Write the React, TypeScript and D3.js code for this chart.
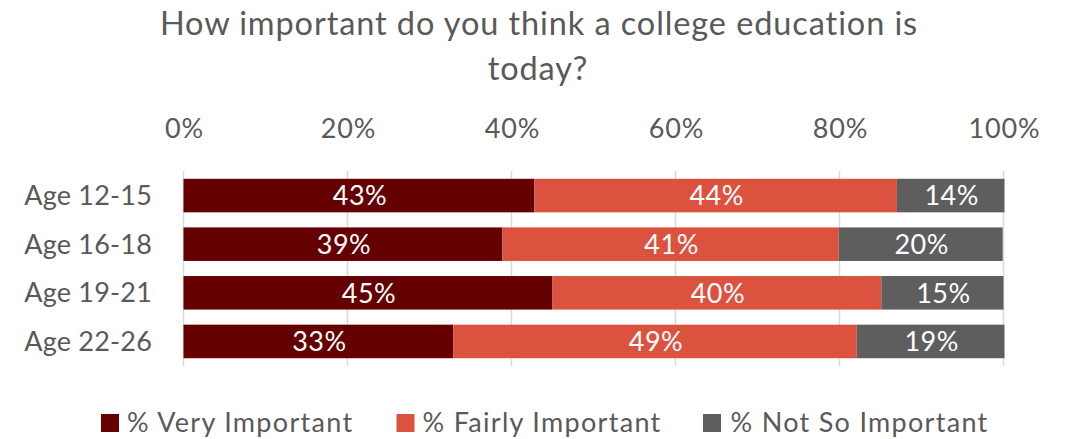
import React from "react";
import * as d3 from "d3";

const categories = ["Age 12-15", "Age 16-18", "Age 19-21", "Age 22-26"];
const seriesNames = ["% Very Important", "% Fairly Important", "% Not So Important"];
const veryImportant = [42.8, 38.9, 45.0, 32.9];
const fairlyImportant = [44.2, 41.0, 40.1, 49.2];
const notSoImportant = [13.6, 20.0, 14.9, 18.6];
const seriesLabels = [
  [43, 39, 45, 33],
  [44, 41, 40, 49],
  [14, 20, 15, 19],
];
const tickValues = [0, 0.2, 0.4, 0.6, 0.8, 1.0];
const colors = ["#650000", "#DB523F", "#5E5E5E"];

const W = 1066;
const H = 439;
const FONT = "Lato, 'Open Sans', sans-serif";
const TXT = "#595959";

export default function App() {
  const x = d3.scaleLinear().domain([0, 1]).range([183.5, 1003.5]);
  const y = d3
    .scaleBand<string>()
    .domain(categories)
    .range([171, 366])
    .paddingInner(0.31)
    .paddingOuter(0.16);
  const series = [veryImportant, fairlyImportant, notSoImportant];
  const xMax = x(1) + 1;

  const segs: any[] = [];
  categories.forEach((c, i) => {
    let acc = 0;
    series.forEach((s, k) => {
      const v = s[i] / 100;
      const x0 = x(acc);
      const x1 = Math.min(x(acc + v), xMax);
      acc += v;
      segs.push({ c, k, x0, x1, label: seriesLabels[k][i] });
    });
  });

  const legendItems = [
    { sx: 101, tx: 127 },
    { sx: 396.5, tx: 422.5 },
    { sx: 703, tx: 730.5 },
  ];

  return (
    <svg width={W} height={H} style={{ position: "absolute", left: 0, top: 0 }}>
      <rect width={W} height={H} fill="#fff" />
      <text x={539} y={35} textAnchor="middle" fontFamily={FONT} fontSize={32.5} letterSpacing={0.9} fill={TXT}>
        How important do you think a college education is
      </text>
      <text x={538} y={80} textAnchor="middle" fontFamily={FONT} fontSize={32.5} letterSpacing={0.9} fill={TXT}>
        today?
      </text>
      {tickValues.map((t) => (
        <g key={t}>
          <line x1={x(t)} x2={x(t)} y1={171} y2={366} stroke="#D9D9D9" strokeWidth={1.5} />
          <text x={x(t) + 1} y={137.5} textAnchor="middle" fontFamily={FONT} fontSize={27} letterSpacing={0.8} fill={TXT}>
            {d3.format(".0%")(t)}
          </text>
        </g>
      ))}
      {categories.map((c) => (
        <text
          key={c}
          x={152}
          y={(y(c) as number) + y.bandwidth() / 2}
          dy="0.35em"
          textAnchor="end"
          fontFamily={FONT}
          fontSize={27}
          letterSpacing={0.2}
          fill={TXT}
        >
          {c}
        </text>
      ))}
      {segs.map((s, i) => (
        <rect
          key={"r" + i}
          x={s.x0}
          y={y(s.c)}
          width={s.x1 - s.x0}
          height={y.bandwidth()}
          fill={colors[s.k]}
        />
      ))}
      {segs.map((s, i) => (
        <text
          key={"t" + i}
          x={(s.x0 + s.x1) / 2 + 1}
          y={(y(s.c) as number) + y.bandwidth() / 2}
          dy="0.36em"
          textAnchor="middle"
          fontFamily={FONT}
          fontSize={27}
          letterSpacing={0.5}
          fill="#fff"
        >
          {s.label + "%"}
        </text>
      ))}
      {seriesNames.map((n, k) => (
        <g key={n}>
          <rect x={legendItems[k].sx} y={414} width={18} height={18} fill={colors[k]} />
          <text x={legendItems[k].tx} y={432} fontFamily={FONT} fontSize={27} letterSpacing={1.3} fill={TXT}>
            {n}
          </text>
        </g>
      ))}
    </svg>
  );
}
